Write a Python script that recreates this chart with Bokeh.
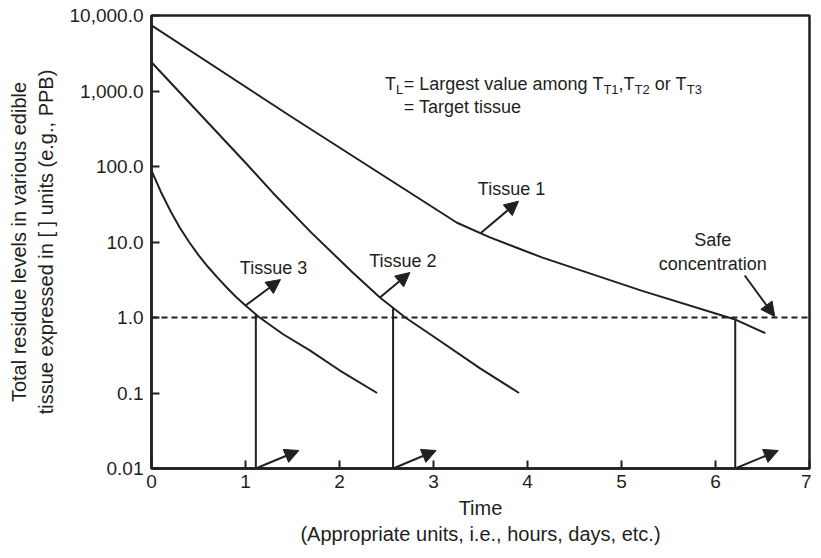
import numpy as np
from bokeh.plotting import figure
from bokeh.models import Range1d, FixedTicker, Label, Arrow, NormalHead
from bokeh.embed import file_html
from bokeh.resources import INLINE

# ---------------- data ----------------
tissue1_time = [0, 1.5, 3.25, 3.6, 4.16, 5.22, 6.2, 6.53]
tissue1_res = [7400, 446, 18, 11.5, 6.2, 2.25, 0.95, 0.62]

tissue2_time = [0, 0.5, 1.0, 1.29, 1.7, 2.14, 2.43, 2.70, 3.0, 3.5, 3.91]
tissue2_res = [2400, 520, 112, 45, 13.3, 3.95, 1.84, 1.0, 0.56, 0.21, 0.1]

tissue3_time = [0, 0.1, 0.2, 0.3, 0.4, 0.5, 0.6, 0.7, 0.8, 0.9, 1.0, 1.15, 1.4, 1.68, 2.0, 2.4]
tissue3_res = [88, 46, 26, 15.6, 10, 6.7, 4.7, 3.4, 2.5, 1.87, 1.44, 1.0, 0.6, 0.37, 0.2, 0.1]

safe_concentration = 1.0
withdrawal_times = [1.11, 2.57, 6.21]          # tissue 3, tissue 2, tissue 1
label_arrow_times = [1.0, 2.43, 3.5]            # where "Tissue n" arrows leave the curves

x_ticks = [0, 1, 2, 3, 4, 5, 6, 7]
y_ticks = [0.01, 0.1, 1, 10, 100, 1000, 10000]
y_tick_labels = ["0.01", "0.1", "1.0", "10.0", "100.0", "1,000.0", "10,000.0"]

# ---------------- style ----------------
INK = "#231f20"
FONT = "Liberation Sans"
X0, X1, Y0, Y1 = 0, 7, 0.01, 10000
FRAME_W, FRAME_H = 658, 453

p = figure(width=811, height=548,
           x_range=Range1d(X0, X1), y_range=Range1d(Y0, Y1),
           y_axis_type="log",
           output_backend="svg", toolbar_location=None,
           min_border_left=151, min_border_right=2,
           min_border_top=15, min_border_bottom=80)

p.background_fill_color = "white"
p.border_fill_color = "white"
p.outline_line_color = INK
p.outline_line_width = 2.5
p.xgrid.visible = False
p.ygrid.visible = False

p.xaxis.ticker = FixedTicker(ticks=x_ticks)
p.yaxis.ticker = FixedTicker(ticks=y_ticks)
p.yaxis.major_label_overrides = {t: s for t, s in zip(y_ticks, y_tick_labels)}

for ax in (p.xaxis[0], p.yaxis[0]):
    ax.axis_line_color = INK
    ax.axis_line_width = 2.5
    ax.major_tick_in = 8
    ax.major_tick_out = 0
    ax.major_tick_line_color = INK
    ax.major_tick_line_width = 2
    ax.minor_tick_line_color = None
    ax.major_label_text_font = FONT
    ax.major_label_text_font_size = "19px"
    ax.major_label_text_color = INK
    ax.axis_label_text_font = FONT
    ax.axis_label_text_font_size = "20px"
    ax.axis_label_text_font_style = "normal"
    ax.axis_label_text_color = INK

p.xaxis.major_label_standoff = 6
p.yaxis.major_label_standoff = 8
p.xaxis.axis_label = "Time\n(Appropriate units, i.e., hours, days, etc.)"
p.yaxis.axis_label = "Total residue levels in various edible\ntissue expressed in [ ] units (e.g., PPB)"
p.xaxis.axis_label_standoff = 6
p.yaxis.axis_label_standoff = 10


# helpers: pixel offsets -> data coordinates (linear x, log y)
def dx(px):
    return px * (X1 - X0) / FRAME_W


def ymul(py):  # upward pixel offset -> multiplicative factor
    return 10 ** (py * (np.log10(Y1) - np.log10(Y0)) / FRAME_H)


def on_curve(t, xs, ys):
    return 10 ** np.interp(t, xs, np.log10(ys))


# ---------------- curves ----------------
for xs, ys in ((tissue1_time, tissue1_res), (tissue2_time, tissue2_res), (tissue3_time, tissue3_res)):
    p.line(xs, ys, line_color=INK, line_width=2, line_join="round")

# safe concentration line
p.line([X0, X1], [safe_concentration, safe_concentration], line_color=INK,
       line_width=2, line_dash="6 4")

curves = [(tissue3_time, tissue3_res), (tissue2_time, tissue2_res), (tissue1_time, tissue1_res)]

# withdrawal verticals and bottom arrows
head = dict(size=14, fill_color=INK, line_color=INK, line_width=1)
for t, (xs, ys) in zip(withdrawal_times, curves):
    top = on_curve(t, xs, ys)
    p.line([t, t], [Y0, top], line_color=INK, line_width=2)
    p.add_layout(Arrow(end=NormalHead(**head), x_start=t, y_start=Y0,
                       x_end=t + dx(43), y_end=Y0 * ymul(18),
                       line_color=INK, line_width=2))

# tissue labels with arrows
names = ["Tissue 3", "Tissue 2", "Tissue 1"]
tips = [(35, 26), (30, 25), (38, 32)]
for name, t, (xs, ys), (ox, oy) in zip(names, label_arrow_times, curves, tips):
    y0 = on_curve(t, xs, ys)
    xe, ye = t + dx(ox), y0 * ymul(oy)
    p.add_layout(Arrow(end=NormalHead(**head), x_start=t, y_start=y0,
                       x_end=xe, y_end=ye, line_color=INK, line_width=2))
    p.add_layout(Label(x=xe - dx(7), y=ye * ymul(12), text=name,
                       text_align="center", text_baseline="middle",
                       text_font=FONT, text_font_size="18px", text_color=INK))

# safe concentration label
sx_end = 6.63
p.add_layout(Arrow(end=NormalHead(**head), x_start=sx_end - dx(30), y_start=safe_concentration * ymul(42),
                   x_end=sx_end, y_end=safe_concentration * ymul(1),
                   line_color=INK, line_width=2))
for txt, up in (("Safe", 78), ("concentration", 54)):
    p.add_layout(Label(x=sx_end - dx(62), y=safe_concentration * ymul(up), text=txt,
                       text_align="center", text_baseline="middle",
                       text_font=FONT, text_font_size="18px", text_color=INK))

# T_L annotation built from pieces (Arial / Liberation Sans advance widths)
W = {"T": .611, "L": .556, "=": .584, " ": .278, "a": .556, "r": .333, "g": .556,
     "e": .556, "s": .5, "t": .278, "v": .5, "l": .222, "u": .556, "m": .833,
     "o": .556, "n": .556, ",": .278, "1": .556, "2": .556, "3": .556, "i": .222}


def width(s, size):
    return sum(W.get(c, .556) for c in s) * size


x_left = 2.485      # left edge of the "T_L" block (data units)
y_base = 10 ** 3.095
# (text, font size, baseline shift in px, extra gap after in px)
pieces = [("T", 18, 0, 0), ("L", 13, -6, 0.5), ("= Largest value among", 18, 0, 5),
          ("T", 18, 0, 0), ("T1", 13, -6, 0), (",T", 18, 0, 0), ("T2", 13, -6, 5),
          ("or T", 18, 0, 0), ("T3", 13, -6, 0)]
cursor = 0.0
for txt, size, shift, gap in pieces:
    p.add_layout(Label(x=x_left + dx(cursor), y=y_base * ymul(shift), text=txt,
                       text_align="left", text_baseline="alphabetic",
                       text_font=FONT, text_font_size=f"{size}px", text_color=INK))
    cursor += width(txt, size) + gap
p.add_layout(Label(x=x_left + dx(width("T", 18) + width("L", 13) + 0.5), y=y_base * ymul(-23),
                   text="= Target tissue", text_align="left", text_baseline="alphabetic",
                   text_font=FONT, text_font_size="18px", text_color=INK))

open("out.html", "w").write(file_html(p, INLINE))
